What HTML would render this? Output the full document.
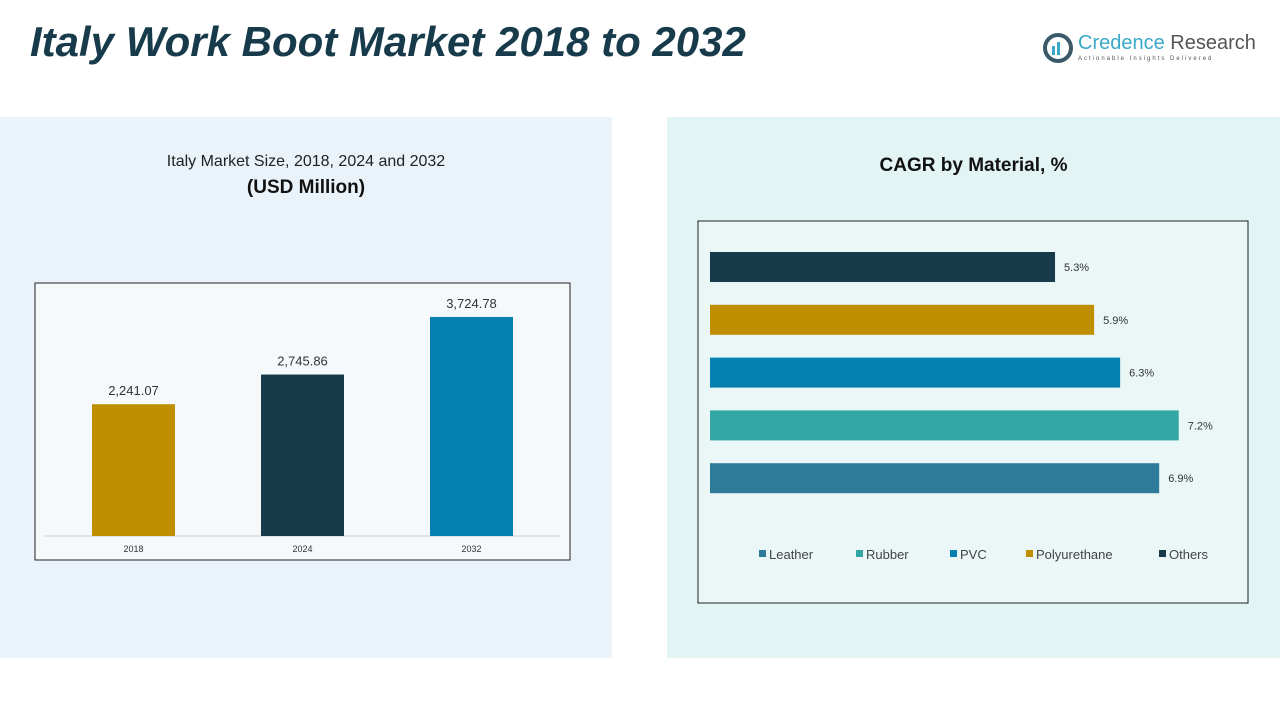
<!DOCTYPE html>
<html><head><meta charset="utf-8"><style>
body{margin:0;width:1280px;height:720px;background:#fff;font-family:"Liberation Sans",sans-serif;position:relative;overflow:hidden}
.abs{position:absolute}
</style></head><body>
<div class="abs" style="left:30px;top:18px;font-size:42px;font-weight:bold;font-style:italic;color:#173B4B">Italy Work Boot Market 2018 to 2032</div>
<div class="abs" style="left:1042px;top:32px;width:210px;height:36px">
 <svg width="32" height="32" class="abs" style="left:0;top:0"><circle cx="16" cy="16" r="13" fill="none" stroke="#3a5a6a" stroke-width="4"/><rect x="10" y="14" width="3" height="9" fill="#3aa8c8"/><rect x="15" y="10" width="3" height="13" fill="#3aa8c8"/></svg>
 <div class="abs" style="left:36px;top:0;font-size:20px;color:#3aa8c8;white-space:nowrap">Credence <span style="color:#555">Research</span></div>
 <div class="abs" style="left:36px;top:24px;font-size:6px;letter-spacing:2px;color:#555;white-space:nowrap">Actionable Insights Delivered</div>
</div>
<div class="abs" style="left:0;top:117px;width:612px;height:541px;background:#EAF3F9"></div>
<div class="abs" style="left:667px;top:117px;width:613px;height:541px;background:#E2F4F4"></div>
<div class="abs" style="left:0;width:612px;top:153px;text-align:center;font-size:16px;color:#222">Italy Market Size, 2018, 2024 and 2032</div>
<div class="abs" style="left:0;width:612px;top:177px;text-align:center;font-size:19px;font-weight:bold;color:#111">(USD Million)</div>
<div class="abs" style="left:667px;width:613px;top:155px;text-align:center;font-size:19px;font-weight:bold;color:#111">CAGR by Material, %</div>
<svg class="abs" style="left:0;top:0" width="1280" height="720" id="svg">
 <rect x="35" y="283" width="535" height="277" fill="#fff" fill-opacity="0.5" stroke="#222" stroke-width="1"/>
 <line x1="45" y1="536" x2="560" y2="536" stroke="#ccc"/>
 <rect x="698" y="221" width="550" height="382" fill="#fff" fill-opacity="0.3" stroke="#222" stroke-width="1"/>
</svg>
<script>
const years=["2018","2024","2032"];
const sizes=[2241.07,2745.86,3724.78];
const sizeLabels=["2,241.07","2,745.86","3,724.78"];
const materials=["Others","Polyurethane","PVC","Rubber","Leather"];
const cagr=[5.3,5.9,6.3,7.2,6.9];
const legendOrder=["Leather","Rubber","PVC","Polyurethane","Others"];
const colors={Others:"#173B4B",Polyurethane:"#BF8F00",PVC:"#0580B0",Rubber:"#33A6A6",Leather:"#2E7A9A"};
const yearColors=["#BF8F00","#173B4B","#0580B0"];
const svg=document.getElementById('svg');const NS="http://www.w3.org/2000/svg";
function mk(t,a,txt){const e=document.createElementNS(NS,t);for(const k in a)e.setAttribute(k,a[k]);if(txt!=null)e.textContent=txt;svg.appendChild(e);return e;}
const yS=v=>536-v*0.0588;
const xB=i=>92+i*169;
years.forEach((y,i)=>{
 const r=mk('rect',{x:xB(i),y:yS(sizes[i]),width:83,height:536-yS(sizes[i]),fill:yearColors[i]});
 
 
 const t=mk('text',{x:xB(i)+41.5,y:yS(sizes[i])-9,'text-anchor':'middle','font-size':13,fill:'#333'},sizeLabels[i]);
 
 
 const l=mk('text',{x:xB(i)+41.5,y:552,'text-anchor':'middle','font-size':9,fill:'#333'},y);
 
 
});
const xS=v=>710+v*65.1;
const yC=i=>267+i*52.8;
materials.forEach((m,i)=>{
 const r=mk('rect',{x:710,y:yC(i)-15,width:xS(cagr[i])-710,height:30,fill:colors[m]});
 
 
 const t=mk('text',{x:xS(cagr[i])+9,y:yC(i)+4,'font-size':11,fill:'#333'},cagr[i].toFixed(1)+'%');
 
 
});
const lx=[759,856,950,1026,1159];
legendOrder.forEach((m,i)=>{
 const g=document.createElementNS(NS,'g');svg.appendChild(g);
 
 
 const r=document.createElementNS(NS,'rect');r.setAttribute('x',lx[i]);r.setAttribute('y',550);r.setAttribute('width',7);r.setAttribute('height',7);r.setAttribute('fill',colors[m]);g.appendChild(r);
 const t=document.createElementNS(NS,'text');t.setAttribute('x',lx[i]+10);t.setAttribute('y',559);t.setAttribute('font-size',13);t.setAttribute('fill','#444');t.textContent=m;g.appendChild(t);
});
</script>
</body></html>
